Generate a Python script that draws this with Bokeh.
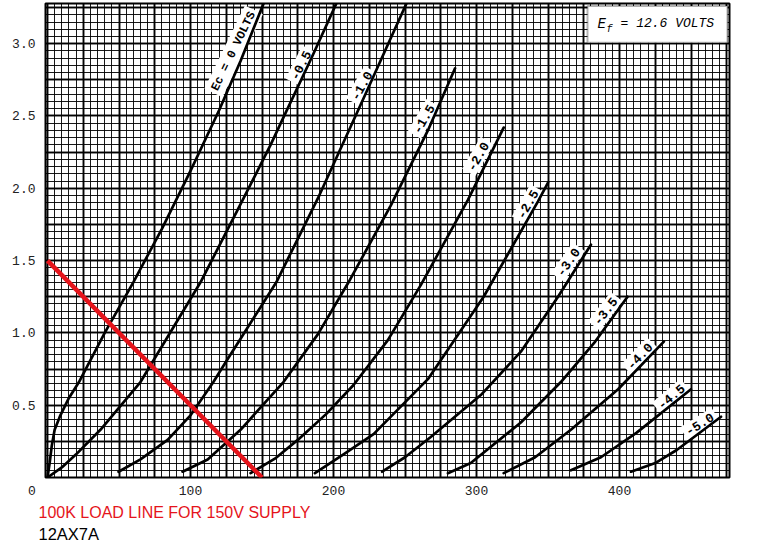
from bokeh.plotting import figure
from bokeh.models import FixedTicker, Grid, Label, NumeralTickFormatter, Range1d, BoxAnnotation, Title
from bokeh.core.properties import value
from bokeh.embed import file_html
from bokeh.resources import INLINE

# ---- 12AX7A plate characteristics (plate volts, plate mA) ----
ec0_v   = [0, 1.5, 3, 5, 9, 15, 22, 40, 60, 80, 100, 120, 135, 152]
ec0_i   = [0, 0.10, 0.22, 0.33, 0.43, 0.55, 0.66, 1.0, 1.35, 1.72, 2.12, 2.54, 2.88, 3.30]
ecm05_v = [0, 10, 20, 37, 65, 107, 135, 156, 165, 185, 203]
ecm05_i = [0, 0.07, 0.16, 0.33, 0.66, 1.35, 1.89, 2.30, 2.49, 2.91, 3.30]
ecm10_v = [49.7, 65, 84, 100, 116, 126, 135, 160, 190, 220, 252]
ecm10_i = [0.04, 0.125, 0.26, 0.43, 0.66, 0.82, 0.96, 1.35, 1.95, 2.6, 3.3]
ecm15_v = [94.4, 112, 135, 165, 189, 210.5, 240, 266, 285]
ecm15_i = [0.04, 0.125, 0.33, 0.66, 0.99, 1.35, 1.88, 2.40, 2.83]
ecm20_v = [142, 159, 175, 195, 214, 238, 261, 294, 319]
ecm20_i = [0.03, 0.13, 0.26, 0.44, 0.64, 0.95, 1.33, 1.92, 2.42]
ecm25_v = [187, 207, 228, 266, 305, 343, 350]
ecm25_i = [0.03, 0.16, 0.30, 0.68, 1.25, 1.91, 2.04]
ecm30_v = [234, 250, 268, 303, 331, 357, 380]
ecm30_i = [0.04, 0.14, 0.28, 0.57, 0.87, 1.25, 1.61]
ecm35_v = [280, 296, 331, 359, 383, 405.6]
ecm35_i = [0.03, 0.10, 0.38, 0.66, 0.94, 1.25]
ecm40_v = [319, 341, 366, 399, 431]
ecm40_i = [0.03, 0.14, 0.33, 0.61, 0.94]
ecm45_v = [366, 387, 412, 450]
ecm45_i = [0.05, 0.14, 0.31, 0.61]
ecm50_v = [408, 425, 440, 471]
ecm50_i = [0.04, 0.10, 0.19, 0.42]

curve_names = ["Ec = 0 VOLTS", "-0.5", "-1.0", "-1.5", "-2.0", "-2.5",
               "-3.0", "-3.5", "-4.0", "-4.5", "-5.0"]

# load line
supply_v = 150      # volts
load_k = 100        # kilo-ohms

x_ticks = [0, 100, 200, 300, 400]
y_ticks = [0.5, 1.0, 1.5, 2.0, 2.5, 3.0]

curves = [(ec0_v, ec0_i), (ecm05_v, ecm05_i), (ecm10_v, ecm10_i), (ecm15_v, ecm15_i),
          (ecm20_v, ecm20_i), (ecm25_v, ecm25_i), (ecm30_v, ecm30_i), (ecm35_v, ecm35_i),
          (ecm40_v, ecm40_i), (ecm45_v, ecm45_i), (ecm50_v, ecm50_i)]

# label placement along the curves (positions / angles)
lab_x = [116, 177, 219.6, 263, 301, 335.7, 364, 390, 414, 436, 456]
lab_y = [2.66, 2.85, 2.71, 2.48, 2.22, 1.89, 1.49, 1.15, 0.84, 0.56, 0.37]
lab_a = [64, 63, 60, 60, 60, 60, 55, 52, 46, 40, 32]

MONO = "Liberation Mono"
SANS = "Liberation Sans"
RED = "#e5141b"

p = figure(width=760, height=543, output_backend="svg", toolbar_location=None,
           x_range=Range1d(-1.4, 476.9), y_range=Range1d(0, 3.278),
           min_border_left=45, min_border_right=31, min_border_top=3, min_border_bottom=20)
p.background_fill_color = "white"
p.border_fill_color = "white"
p.outline_line_color = "black"
p.outline_line_width = 2

# graph-paper grid
p.xgrid.ticker = FixedTicker(ticks=[i * 5 for i in range(0, 97)])
p.ygrid.ticker = FixedTicker(ticks=[round(i * 0.05, 2) for i in range(0, 66)])
for g in (p.xgrid, p.ygrid):
    g.grid_line_color = "black"
    g.grid_line_alpha = 0.9
    g.grid_line_width = 1
hx = Grid(dimension=0, ticker=FixedTicker(ticks=[i * 25 for i in range(0, 20)]),
          grid_line_color="black", grid_line_width=2, grid_line_alpha=0.9)
hy = Grid(dimension=1, ticker=FixedTicker(ticks=[i * 0.25 for i in range(0, 14)]),
          grid_line_color="black", grid_line_width=2, grid_line_alpha=0.9)
p.add_layout(hx)
p.add_layout(hy)

# axes
for ax in (p.xaxis, p.yaxis):
    ax.axis_line_color = None
    ax.major_tick_line_color = None
    ax.minor_tick_line_color = None
    ax.major_tick_in = 0
    ax.major_tick_out = 0
    ax.minor_tick_in = 0
    ax.minor_tick_out = 0
    ax.major_label_text_font = MONO
    ax.major_label_text_font_size = "13px"
    ax.major_label_text_color = "#222222"
p.xaxis.ticker = FixedTicker(ticks=x_ticks)
p.xaxis.major_label_overrides = {0: "0\u00a0\u00a0\u00a0\u00a0"}
p.yaxis.ticker = FixedTicker(ticks=y_ticks)
p.yaxis.formatter = NumeralTickFormatter(format="0.0")
p.xaxis.major_label_standoff = 6
p.yaxis.major_label_standoff = 10

# curve labels (white patches on the paper)
p.text(x=lab_x[:1], y=lab_y[:1], text=curve_names[:1], angle=lab_a[:1], angle_units="deg",
       text_font=value(MONO), text_font_size="12px", text_font_style="bold",
       text_align="left", text_baseline="middle", text_color="black",
       background_fill_color="white", padding=3)
p.text(x=lab_x[1:], y=lab_y[1:], text=curve_names[1:], angle=lab_a[1:], angle_units="deg",
       text_font=value(MONO), text_font_size="13px", text_font_style="bold",
       text_align="center", text_baseline="middle", text_color="black",
       background_fill_color="white", padding=3)

# plate curves
for v, i in curves:
    p.line(v, i, line_color="black", line_width=2.7, line_join="round", line_cap="round")

# load line
p.line([0, supply_v], [supply_v / load_k, 0], line_color=RED, line_width=4.5)

# heater box
box = BoxAnnotation(left=377.6, right=475.5, bottom=3.007, top=3.26,
                    fill_color="white", fill_alpha=1, line_color="black", line_width=2)
p.add_layout(box)
p.add_layout(Label(x=384.6, y=3.139, text="E", text_font=MONO, text_font_size="14px",
                   text_font_style="italic", text_baseline="middle", text_color="black"))
p.add_layout(Label(x=390.9, y=3.10, text="f", text_font=MONO, text_font_size="10px",
                   text_font_style="italic", text_baseline="middle", text_color="black"))
p.add_layout(Label(x=400.7, y=3.139, text="= 12.6 VOLTS", text_font=MONO, text_font_size="13px",
                   text_font_style="italic", text_baseline="middle", text_color="black"))

# captions under the chart
p.add_layout(Title(text="100K LOAD LINE FOR 150V SUPPLY", align="left", offset=-7, standoff=1,
                   text_font=SANS, text_font_size="16px", text_font_style="normal",
                   text_color=RED), "below")
p.add_layout(Title(text="12AX7A", align="left", offset=-7, standoff=2,
                   text_font=SANS, text_font_size="16.5px", text_font_style="normal",
                   text_color="black"), "below")

open("out.html", "w").write(file_html(p, INLINE))
